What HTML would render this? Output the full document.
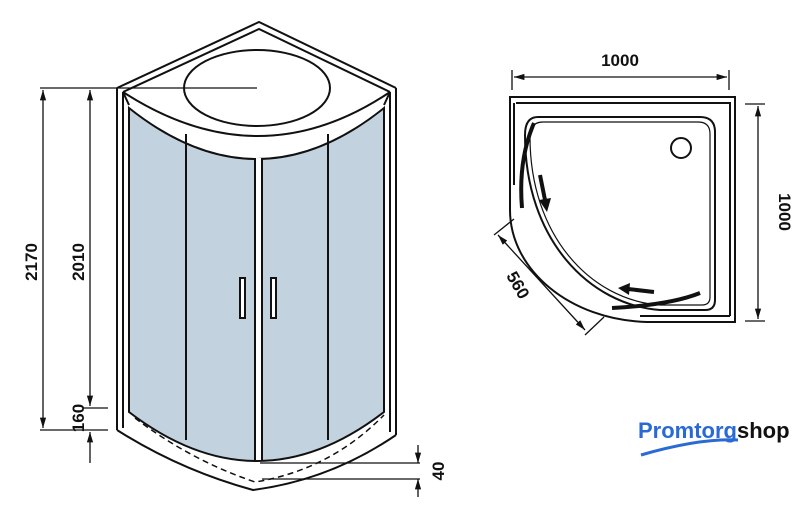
<!DOCTYPE html>
<html><head><style>html,body{margin:0;padding:0;background:#fff}svg{display:block}</style></head><body>
<svg width="805" height="517" viewBox="0 0 805 517" xmlns="http://www.w3.org/2000/svg" font-family="Liberation Sans, sans-serif">
<defs><marker id="a" viewBox="0 0 10 10" refX="10" refY="5" markerWidth="8" markerHeight="8" orient="auto-start-reverse"><path d="M0,2 L10,5 L0,8 z" fill="#111"/></marker></defs>
<g fill="none" stroke="#111" stroke-width="2">
<path d="M117,88 L259,22 L396,88"/>
<path d="M123,92 L259,29 L390,92"/>
<path d="M117,88 V430 M396,88 V435 M123,92 V428 M390,92 V432"/>
<path d="M123,92 L129,105 M390,92 L384,105"/>
<path d="M123,92 Q259,180 390,92"/>
<ellipse cx="257" cy="88" rx="73" ry="38"/>
</g>
<path d="M129,108 Q257,210 384,108 V412 Q257,510 129,412 Z" fill="#c2d3df" stroke="#111" stroke-width="2"/>
<g stroke="#111" stroke-width="2" fill="none">
<path d="M186,134 V440 M255,158 V460 M262,158 V460 M328,134 V440"/>
<rect x="240" y="278" width="5" height="40" fill="#fff"/>
<rect x="271" y="278" width="5" height="40" fill="#fff"/>
<path d="M117,430 Q180,470 253,490 Q330,480 396,435"/>
<path d="M135,418 Q190,460 255,482 Q330,470 384,415" stroke-dasharray="6,4" stroke-width="1.5"/>
</g>
<rect x="256" y="158" width="5" height="302" fill="#fff"/>
<g stroke="#111" stroke-width="1.3" fill="none">
<line x1="40" y1="88" x2="257" y2="88"/>
<line x1="83" y1="408" x2="108" y2="408"/>
<line x1="40" y1="430" x2="108" y2="430"/>
<line x1="43" y1="90" x2="43" y2="428" marker-start="url(#a)" marker-end="url(#a)"/>
<line x1="90" y1="90" x2="90" y2="406" marker-start="url(#a)" marker-end="url(#a)"/>
<line x1="90" y1="432" x2="90" y2="463" marker-start="url(#a)"/>
<line x1="260" y1="463" x2="420" y2="463"/>
<line x1="262" y1="479" x2="420" y2="479"/>
<line x1="418" y1="445" x2="418" y2="463" marker-end="url(#a)"/>
<line x1="418" y1="497" x2="418" y2="479" marker-end="url(#a)"/>
</g>
<g font-size="17" font-weight="bold" fill="#111">
<text transform="translate(37,262) rotate(-90)" text-anchor="middle">2170</text>
<text transform="translate(84,262) rotate(-90)" text-anchor="middle">2010</text>
<text transform="translate(84,418) rotate(-90)" text-anchor="middle">160</text>
<text transform="translate(444,471) rotate(-90)" text-anchor="middle">40</text>
<text x="620" y="66" text-anchor="middle">1000</text>
<text transform="translate(779,212) rotate(90)" text-anchor="middle">1000</text>
<text transform="translate(513,288) rotate(60)" text-anchor="middle">560</text>
</g>
<g fill="none" stroke="#111" stroke-width="2">
<path d="M510,97 H735 V322 H647 C570,320 510,270 510,210 Z"/>
<path d="M516,103 H730 V316 M514,103 V185"/>
<path d="M640,316 H730"/>
<path d="M538,117 H700 Q715,117 715,132 V300 Q715,310 705,310 H660 C590,305 525,240 525,135 Q525,117 538,117 Z"/>
<path d="M543,122 H698 Q710,122 710,134 V297 Q710,305 702,305 H660 C590,300 530,235 530,137 Q530,122 543,122 Z" stroke-width="1.2"/>
<circle cx="681" cy="148" r="10"/>
<path d="M522,208 Q518,160 534,123" stroke-width="4"/>
<path d="M612,308 Q670,305 700,293" stroke-width="4"/>
<path d="M540,175 L545,200" stroke-width="4"/>
<path d="M654,292 L628,289" stroke-width="4"/>
</g>
<path d="M539,200 L547,212 L551,198 Z M630,283 L618,288 L629,295 Z" fill="#111"/>
<g stroke="#111" stroke-width="1.3" fill="none">
<line x1="512" y1="70" x2="512" y2="90"/><line x1="729" y1="70" x2="729" y2="90"/>
<line x1="514" y1="77" x2="727" y2="77" marker-start="url(#a)" marker-end="url(#a)"/>
<line x1="745" y1="104" x2="765" y2="104"/><line x1="745" y1="321" x2="765" y2="321"/>
<line x1="758" y1="106" x2="758" y2="319" marker-start="url(#a)" marker-end="url(#a)"/>
<line x1="514" y1="219" x2="494" y2="235"/><line x1="604" y1="317" x2="585" y2="335"/>
<line x1="498" y1="235" x2="585" y2="330" marker-start="url(#a)" marker-end="url(#a)"/>
</g>
<text x="638" y="438" font-size="22" font-weight="bold" fill="#2a6ad4">Promtorg<tspan fill="#111">shop</tspan></text>
<path d="M641,455 Q700,438 738,440" stroke="#2a6ad4" stroke-width="3" fill="none"/>
</svg>
</body></html>
